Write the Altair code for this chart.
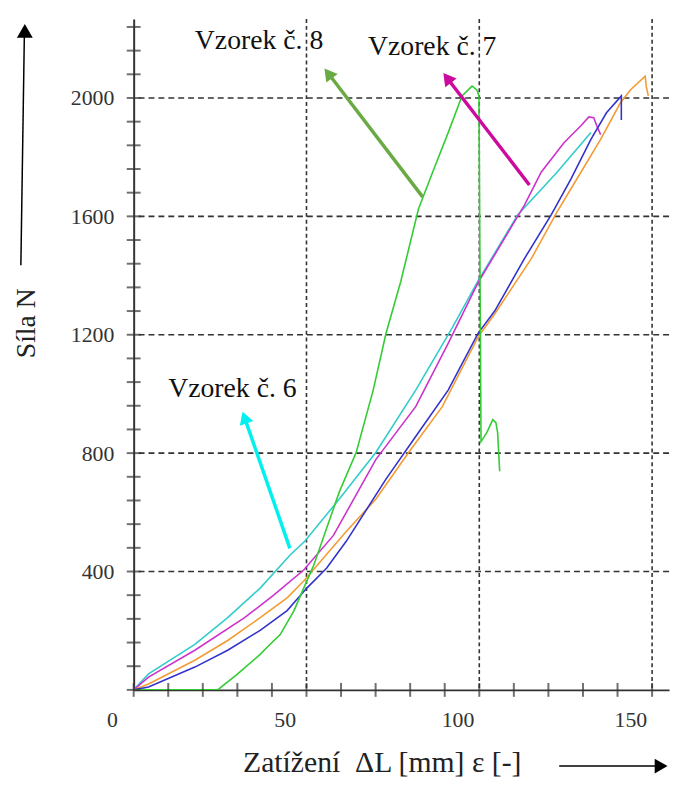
import math
import altair as alt
import pandas as pd

# ---------------- data ----------------
series_names = ["Vzorek 6", "Vzorek 7", "Vzorek 5", "Vzorek 4", "Vzorek 8"]
series_colors = ["#33cccc", "#cc33cc", "#f39c33", "#3333cc", "#33cc33"]

cyan_x = [0, 4.3, 17.7, 27.2, 36.6, 45.2, 49.5, 59.5, 70.1, 81.6, 92.2, 99.6, 111.1, 122.5, 132.3]
cyan_y = [0, 54, 154, 244, 344, 455, 502, 645, 803, 1013, 1224, 1381, 1605, 1749, 1883]

magenta_x = [0, 4.3, 17.7, 32.1, 40.6, 49.2, 57.8, 70.1, 81.6, 91.0, 99.6, 113.1, 117.9, 124.5,
             129.4, 131.7, 133.1, 134.0, 135.1]
magenta_y = [0, 43, 134, 244, 321, 405, 522, 779, 957, 1171, 1375, 1639, 1749, 1849,
             1906, 1936, 1933, 1906, 1876]

orange_x = [0, 4.3, 17.7, 27.2, 36.6, 44.4, 49.2, 61.5, 70.1, 79.6, 89.3, 99.6, 104.5, 115.1,
            122.5, 129.4, 135.1, 140.8, 143.7, 148.0, 148.3, 148.9]
orange_y = [0, 20, 100, 167, 244, 311, 368, 535, 645, 803, 957, 1191, 1271, 1458,
            1615, 1749, 1860, 1983, 2027, 2074, 2040, 2007]

blue_x = [0, 4.3, 17.7, 27.2, 36.6, 44.4, 50.1, 55.8, 61.5, 73.0, 81.6, 91.0, 99.6, 104.5,
          113.1, 120.8, 126.5, 132.3, 136.8, 141.1, 141.1]
blue_y = [0, 10, 77, 134, 201, 268, 344, 411, 502, 712, 856, 1013, 1204, 1281,
          1458, 1605, 1726, 1860, 1950, 2007, 1926]

green_x = [0, 24.3, 30.1, 36.6, 38.6, 42.4, 46.4, 49.2, 52.1, 55.8, 59.5, 64.4, 69.3, 73.0,
           77.3, 82.4, 86.5, 91.0, 95.0, 97.9, 99.3, 99.9, 100.5, 101.3, 102.2, 103.9,
           104.8, 105.3, 105.9]
green_y = [0, 0, 54, 120, 144, 187, 268, 344, 421, 545, 669, 803, 1013, 1204,
           1381, 1625, 1749, 1883, 2007, 2040, 2027, 2007, 839, 853, 870, 913,
           903, 870, 739]

x_axis_values = [0, 50, 100, 150]
y_axis_values = [400, 800, 1200, 1600, 2000]
x_minor_ticks = list(range(0, 151, 10))
y_minor_ticks = list(range(0, 2241, 80))

# annotations
label_texts = ["Vzorek č. 8", "Vzorek č. 7", "Vzorek č. 6"]
label_x = [17.7, 67.8, 10.0]
label_y = [2167, 2144, 990]

arrow_tail_x = [83.6, 114.5, 45.2]
arrow_tail_y = [1666, 1706, 478]
arrow_tip_x = [55.2, 89.6, 31.5]
arrow_tip_y = [2100, 2084, 940]
arrow_colors = ["#6aaa44", "#cc0a9e", "#00f0f0"]

# ---------------- layout ----------------
W, H = 541, 678
X_MAX, Y_MAX = 154.9, 2267
SX, SY = W / X_MAX, H / Y_MAX
SERIF = "Liberation Serif"
INK = "#333333"

rows = []
for name, xs, ys in zip(series_names,
                        [cyan_x, magenta_x, orange_x, blue_x, green_x],
                        [cyan_y, magenta_y, orange_y, blue_y, green_y]):
    for i, (x, y) in enumerate(zip(xs, ys)):
        rows.append({"s": name, "x": x, "y": y, "i": i})
df = pd.DataFrame(rows)

xscale = alt.Scale(domain=[0, X_MAX], nice=False, zero=False)
yscale = alt.Scale(domain=[0, Y_MAX], nice=False, zero=False)

x_axis = alt.Axis(
    values=x_axis_values, title="Zatížení\u00a0 ΔL [mm] ε [-]", format="d",
    titleX=110, titleY=82, titleAlign="left", titleBaseline="alphabetic",
    titleFont=SERIF, titleFontSize=30, titleFontWeight="normal", titleColor="#222",
    labelFont=SERIF, labelFontSize=22, labelColor=INK, tickOffset=-22,
    labelPadding=20, labelFlush=False, labelOverlap=False,
    ticks=False, grid=False, domainColor=INK, domainWidth=2)
y_axis = alt.Axis(
    values=y_axis_values, title="Síla N", format="d",
    titleX=-108, titleY=307, titleAngle=270, titleAlign="center",
    titleBaseline="middle", titleFont=SERIF, titleFontSize=28,
    titleFontWeight="normal", titleColor="#222",
    labelFont=SERIF, labelFontSize=22, labelColor=INK, labelPadding=20,
    labelOverlap=False, ticks=False, grid=False, domainColor=INK, domainWidth=2)

# gridlines
hgrid = alt.Chart(pd.DataFrame({"y": y_axis_values})).mark_rule(
    color=INK, strokeWidth=1.6, strokeDash=[6, 4]
).encode(y=alt.Y("y:Q", scale=yscale, axis=y_axis))
vgrid = alt.Chart(pd.DataFrame({"x": x_axis_values[1:]})).mark_rule(
    color=INK, strokeWidth=1.6, strokeDash=[4, 3]
).encode(x=alt.X("x:Q", scale=xscale, axis=x_axis))

curves = alt.Chart(df).mark_line(strokeWidth=1.6, clip=True).encode(
    x=alt.X("x:Q", scale=xscale, axis=x_axis),
    y=alt.Y("y:Q", scale=yscale, axis=y_axis),
    color=alt.Color("s:N", scale=alt.Scale(domain=series_names, range=series_colors), legend=None),
    order=alt.Order("i:Q"),
)

# minor ticks crossing the axes
xticks = alt.Chart(pd.DataFrame({"x": x_minor_ticks})).mark_tick(
    orient="vertical", size=14, thickness=2, color=INK
).encode(x=alt.X("x:Q", scale=xscale, axis=x_axis), y=alt.Y(datum=0, scale=yscale, axis=y_axis))
yticks = alt.Chart(pd.DataFrame({"y": y_minor_ticks})).mark_tick(
    orient="horizontal", size=14, thickness=2, color=INK
).encode(y=alt.Y("y:Q", scale=yscale, axis=y_axis), x=alt.X(datum=0, scale=xscale, axis=x_axis))

# annotation arrows
HEAD = 210
h = 0.433 * math.sqrt(HEAD)
arows, hrows = [], []
for tx, ty, px, py, c in zip(arrow_tail_x, arrow_tail_y, arrow_tip_x, arrow_tip_y, arrow_colors):
    dxp = (px - tx) * SX
    dyp = -(py - ty) * SY
    L = math.hypot(dxp, dyp)
    ux, uy = dxp / L, dyp / L
    ang = math.degrees(math.atan2(ux, -uy)) % 360
    cx, cy = px - ux * h / SX, py + uy * h / SY
    bx, by = px - ux * 1.6 * h / SX, py + uy * 1.6 * h / SY
    arows.append({"x": tx, "y": ty, "x2": bx, "y2": by, "c": c})
    hrows.append({"x": cx, "y": cy, "a": ang, "c": c})

arrow_lines = alt.Chart(pd.DataFrame(arows)).mark_rule(strokeWidth=3.5).encode(
    x=alt.X("x:Q", scale=xscale, axis=x_axis), x2="x2:Q",
    y=alt.Y("y:Q", scale=yscale, axis=y_axis), y2="y2:Q",
    color=alt.Color("c:N", scale=None),
)
arrow_heads = alt.Chart(pd.DataFrame(hrows)).mark_point(
    shape="triangle-up", filled=True, size=HEAD, opacity=1
).encode(
    x=alt.X("x:Q", scale=xscale, axis=x_axis),
    y=alt.Y("y:Q", scale=yscale, axis=y_axis),
    angle=alt.Angle("a:Q", scale=None),
    color=alt.Color("c:N", scale=None),
)

labels = alt.Chart(pd.DataFrame({"t": label_texts, "x": label_x, "y": label_y})).mark_text(
    align="left", baseline="alphabetic", font=SERIF, fontSize=28, color="#111"
).encode(
    x=alt.X("x:Q", scale=xscale, axis=x_axis),
    y=alt.Y("y:Q", scale=yscale, axis=y_axis),
    text="t:N",
)

# arrows next to the axis titles (decoration, pixel placed)
yarrow_line = alt.Chart(pd.DataFrame({"k": [0]})).mark_rule(color="#000", strokeWidth=1.5).encode(
    x=alt.value(-114), x2=alt.value(-110.5), y=alt.value(249), y2=alt.value(18))
yarrow_head = alt.Chart(pd.DataFrame({"k": [0]})).mark_point(
    shape="triangle-up", filled=True, size=256, color="#000", opacity=1).encode(
    x=alt.value(-110), y=alt.value(12))
xarrow_line = alt.Chart(pd.DataFrame({"k": [0]})).mark_rule(color="#000", strokeWidth=1.5).encode(
    x=alt.value(430), x2=alt.value(530), y=alt.value(755))
xarrow_head = alt.Chart(pd.DataFrame({"k": [0]})).mark_point(
    shape="triangle-right", filled=True, size=225, color="#000", opacity=1).encode(
    x=alt.value(533), y=alt.value(755))

chart = alt.layer(
    hgrid, vgrid, curves, arrow_lines, arrow_heads, labels, xticks, yticks,
    yarrow_line, yarrow_head, xarrow_line, xarrow_head,
).properties(
    width=W, height=H,
    background="white",
    autosize=alt.AutoSizeParams(type="none"),
    padding={"left": 127, "top": 7, "right": 3, "bottom": 88},
).configure_view(stroke=None)

chart.save("out.html", embed_options={"renderer": "svg", "actions": False})
